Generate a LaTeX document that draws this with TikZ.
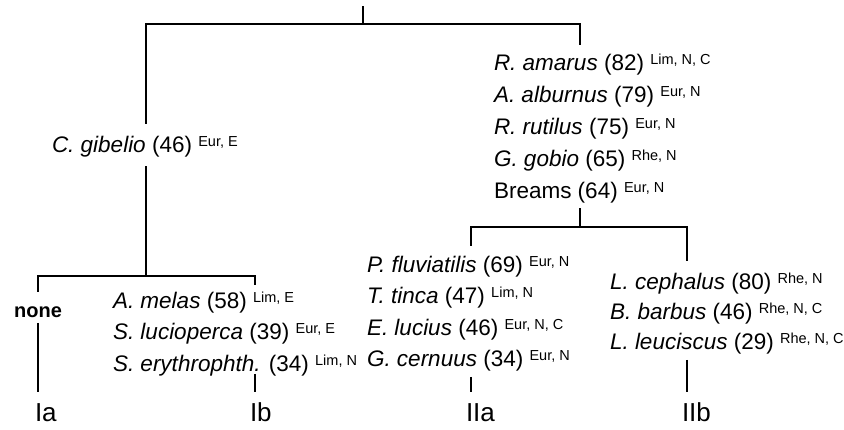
\documentclass[tikz,border=0pt]{standalone}
\usepackage{fontspec}
\setmainfont{Liberation Sans}
\newcommand{\sps}[1]{\raisebox{6.5pt}{\fontsize{14.5}{14.5}\selectfont #1}}
\begin{document}
\begin{tikzpicture}[x=1pt,y=-1pt,
  every node/.style={inner sep=0pt, outer sep=0pt, font=\fontsize{22.5}{26}\selectfont},
  row/.style={anchor=base west},
  lab/.style={anchor=base west, font=\fontsize{26}{30}\selectfont},
  tree/.style={line width=1.8pt, line cap=rect},
  leaf/.style={line width=1.5pt}]
\useasboundingbox (0,0) rectangle (844,430);
% junction coordinates
\coordinate (root) at (363,7);
\coordinate (rootj) at (363,24);
\coordinate (tl) at (146,24);
\coordinate (tr) at (580,24);
\coordinate (gibtop) at (146,123);
\coordinate (gibbot) at (146,167);
\coordinate (lj) at (146,276);
\coordinate (ll) at (38,276);
\coordinate (lr) at (255,276);
\coordinate (trb) at (580,44);
\coordinate (brb) at (580,209);
\coordinate (rj) at (580,227);
\coordinate (rl) at (471,227);
\coordinate (rr) at (687,227);
\coordinate (nonetop) at (38,291);
\coordinate (nonebot) at (38,323);
\coordinate (iaend) at (38,392);
\coordinate (lrb) at (255,284);
\coordinate (ibtop) at (255,374);
\coordinate (ibend) at (255,392);
\coordinate (rlb) at (471,245);
\coordinate (iiatop) at (471,377);
\coordinate (iiaend) at (471,392);
\coordinate (rrb) at (687,260);
\coordinate (iibtop) at (687,360);
\coordinate (iibend) at (687,392);
% texts
\node[row] (gib) at (52,153) {\textit{C. gibelio} (46) \sps{Eur, E}};
\node[row] (r1) at (494,71) {\textit{R. amarus} (82) \sps{Lim, N, C}};
\node[row] (r2) at (494,103) {\textit{A. alburnus} (79) \sps{Eur, N}};
\node[row] (r3) at (494,135) {\textit{R. rutilus} (75) \sps{Eur, N}};
\node[row] (r4) at (494,167) {\textit{G. gobio} (65) \sps{Rhe, N}};
\node[row] (r5) at (494,199) {Breams (64) \sps{Eur, N}};
\node[font=\fontsize{20}{24}\selectfont\bfseries] (none) at (38,312) {none};
\node[row] (b1) at (113,309) {\textit{A. melas} (58) \sps{Lim, E}};
\node[row] (b2) at (113,340) {\textit{S. lucioperca} (39) \sps{Eur, E}};
\node[row] (b3) at (113,372) {\textit{S. erythrophth.} (34) \sps{Lim, N}};
\node[row] (a1) at (367,273) {\textit{P. fluviatilis} (69) \sps{Eur, N}};
\node[row] (a2) at (367,304) {\textit{T. tinca} (47) \sps{Lim, N}};
\node[row] (a3) at (367,336) {\textit{E. lucius} (46) \sps{Eur, N, C}};
\node[row] (a4) at (367,367) {\textit{G. cernuus} (34) \sps{Eur, N}};
\node[row] (c1) at (610,290) {\textit{L. cephalus} (80) \sps{Rhe, N}};
\node[row] (c2) at (610,320) {\textit{B. barbus} (46) \sps{Rhe, N, C}};
\node[row] (c3) at (610,350) {\textit{L. leuciscus} (29) \sps{Rhe, N, C}};
\node[lab] (Ia) at (35,421) {Ia};
\node[lab] (Ib) at (250,421) {Ib};
\node[lab] (IIa) at (466,421) {IIa};
\node[lab] (IIb) at (682,421) {IIb};
% tree lines
\draw[tree] (root) -- (rootj);
\draw[tree] (tl) -- (tr);
\draw[tree] (tl) -- (gibtop);
\draw[tree] (gibbot) -- (lj);
\draw[tree] (ll) -- (lr);
\draw[tree] (tr) -- (trb);
\draw[tree] (brb) -- (rj);
\draw[tree] (rl) -- (rr);
\draw[tree] (ll) -- (nonetop);
\draw[leaf] (nonebot) -- (iaend);
\draw[tree] (lr) -- (lrb);
\draw[leaf] (ibtop) -- (ibend);
\draw[tree] (rl) -- (rlb);
\draw[leaf] (iiatop) -- (iiaend);
\draw[tree] (rr) -- (rrb);
\draw[leaf] (iibtop) -- (iibend);
\end{tikzpicture}
\end{document}
